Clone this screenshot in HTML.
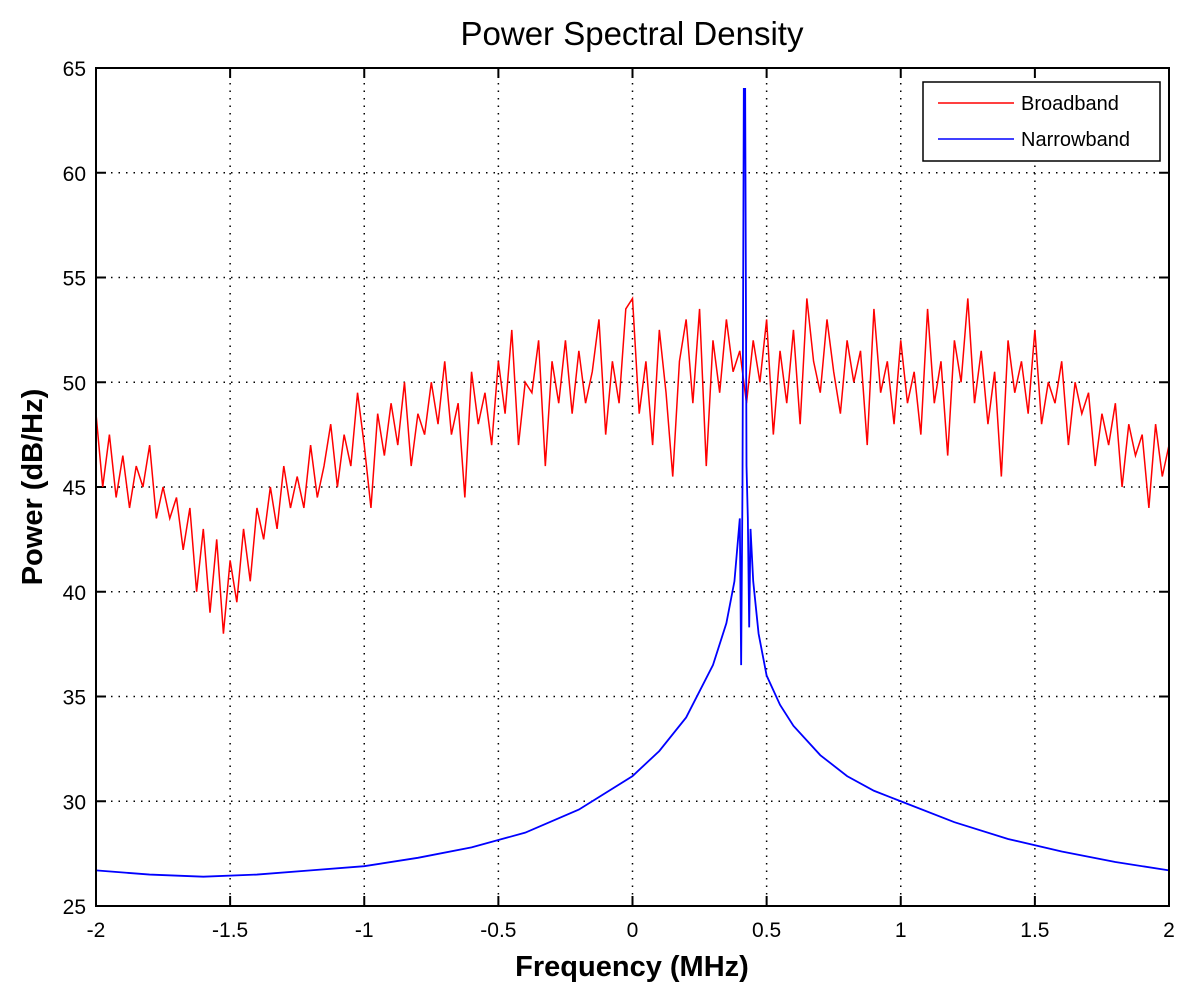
<!DOCTYPE html>
<html><head><meta charset="utf-8"><style>
body{margin:0;background:#fff;}
svg{display:block;font-family:"Liberation Sans",sans-serif;}
</style></head><body>
<svg id="chart" width="1192" height="1000"></svg>
<script>
const bbStart=-2, bbStep=0.025;
const broadband=[48.5,45,47.5,44.5,46.5,44,46,45,47,43.5,
45,43.5,44.5,42,44,40,43,39,42.5,38,
41.5,39.5,43,40.5,44,42.5,45,43,46,44,
45.5,44,47,44.5,46,48,45,47.5,46,49.5,
47,44,48.5,46.5,49,47,50,46,48.5,47.5,
50,48,51,47.5,49,44.5,50.5,48,49.5,47,
51,48.5,52.5,47,50,49.5,52,46,51,49,
52,48.5,51.5,49,50.5,53,47.5,51,49,53.5,
54,48.5,51,47,52.5,49.5,45.5,51,53,49,
53.5,46,52,49.5,53,50.5,51.5,49,52,50,
53,47.5,51.5,49,52.5,48,54,51,49.5,53,
50.5,48.5,52,50,51.5,47,53.5,49.5,51,48,
52,49,50.5,47.5,53.5,49,51,46.5,52,50,
54,49,51.5,48,50.5,45.5,52,49.5,51,48.5,
52.5,48,50,49,51,47,50,48.5,49.5,46,
48.5,47,49,45,48,46.5,47.5,44,48,45.5,47];
const nbFreq=[-2,-1.8,-1.6,-1.4,-1.2,-1,-0.8,-0.6,-0.4,-0.2,0,0.1,0.2,0.3,0.35,0.38,0.4,0.405,0.41,0.415,0.42,0.425,0.43,0.435,0.44,0.45,0.47,0.5,0.55,0.6,0.7,0.8,0.9,1,1.2,1.4,1.6,1.8,2];
const narrowband=[26.7,26.5,26.4,26.5,26.7,26.9,27.3,27.8,28.5,29.6,31.2,32.4,34,36.5,38.5,40.5,43.5,36.5,45,64,64,46,43.5,38.3,43,40.5,38,36,34.6,33.6,32.2,31.2,30.5,30,29,28.2,27.6,27.1,26.7];
const xTicks=[-2,-1.5,-1,-0.5,0,0.5,1,1.5,2];
const yTicks=[25,30,35,40,45,50,55,60,65];

const L=96,R=1169,T=68,B=906;
const xs=v=>L+(v+2)/4*(R-L);
const ys=v=>B-(v-25)/40*(B-T);
const svg=document.getElementById('chart');
const NS='http://www.w3.org/2000/svg';
function mk(tag,attrs,parent){const e=document.createElementNS(NS,tag);for(const k in attrs)e.setAttribute(k,attrs[k]);(parent||svg).appendChild(e);return e;}

const grid=mk('g',{});


xTicks.forEach(t=>{
  if(t>-2&&t<2){const l=mk('line',{x1:xs(t),x2:xs(t),y1:T,y2:B,stroke:'#000','stroke-width':1.5,'stroke-dasharray':'1.5,6'},grid);
  }
  const tk=mk('line',{x1:xs(t),x2:xs(t),y1:B,y2:B-10,stroke:'#000','stroke-width':2});
  
  const tk2=mk('line',{x1:xs(t),x2:xs(t),y1:T,y2:T+10,stroke:'#000','stroke-width':2});
  
  const tx=mk('text',{x:xs(t),y:B+31,'text-anchor':'middle','font-size':21});
  tx.textContent=String(t);
  
});
yTicks.forEach(t=>{
  if(t>25&&t<65){const l=mk('line',{x1:L,x2:R,y1:ys(t),y2:ys(t),stroke:'#000','stroke-width':1.5,'stroke-dasharray':'1.5,6'},grid);
  }
  const tk=mk('line',{x1:L,x2:L+10,y1:ys(t),y2:ys(t),stroke:'#000','stroke-width':2});
  
  const tk2=mk('line',{x1:R,x2:R-10,y1:ys(t),y2:ys(t),stroke:'#000','stroke-width':2});
  
  const tx=mk('text',{x:L-10,y:ys(t)+8,'text-anchor':'end','font-size':21});
  tx.textContent=String(t);
  
});

const bb=mk('polyline',{fill:'none',stroke:'#f00','stroke-width':1.5,points:broadband.map((v,i)=>xs(bbStart+i*bbStep)+','+ys(v)).join(' ')});


const nb=mk('polyline',{fill:'none',stroke:'#00f','stroke-width':1.8,points:narrowband.map((v,i)=>xs(nbFreq[i])+','+ys(v)).join(' ')});



const frame=mk('rect',{x:L,y:T,width:R-L,height:B-T,fill:'none',stroke:'#000','stroke-width':2});



const lg=mk('g',{});


mk('rect',{x:923,y:82,width:237,height:79,fill:'#fff',stroke:'#000','stroke-width':1.5},lg);
mk('line',{x1:938,x2:1014,y1:103,y2:103,stroke:'#f00','stroke-width':1.5},lg);
mk('line',{x1:938,x2:1014,y1:139,y2:139,stroke:'#00f','stroke-width':1.5},lg);
const t1=mk('text',{x:1021,y:110,'font-size':20},lg);t1.textContent='Broadband';

const t2=mk('text',{x:1021,y:146,'font-size':20},lg);t2.textContent='Narrowband';


const title=mk('text',{x:632,y:45,'text-anchor':'middle','font-size':33});
title.textContent='Power Spectral Density';

const xl=mk('text',{x:632,y:976,'text-anchor':'middle','font-size':29,'font-weight':'bold'});
xl.textContent='Frequency (MHz)';

const yl=mk('text',{x:0,y:0,'text-anchor':'middle','font-size':29,'font-weight':'bold',transform:'translate(42,487) rotate(-90)'});
yl.textContent='Power (dB/Hz)';

</script>
</body></html>
